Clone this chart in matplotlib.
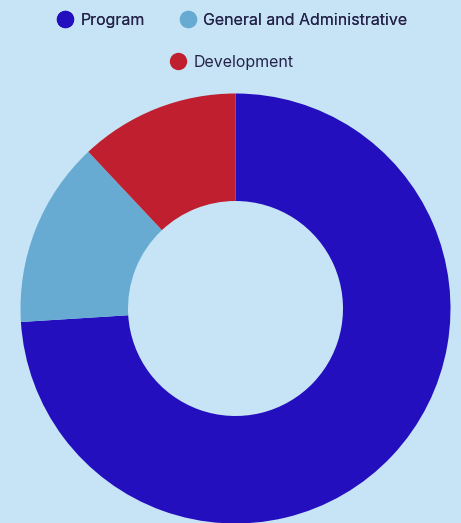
import matplotlib
matplotlib.use("Agg")
import matplotlib.pyplot as plt
from matplotlib.lines import Line2D

categories = ["Program", "General and Administrative", "Development"]
values = [74, 14, 12]
colors = ["#240FBF", "#67ABD3", "#C01F2F"]
bg = "#C6E4F5"
text_color = "#25234A"

plt.rcParams['font.family'] = ['Inter', 'DejaVu Sans']

W, H = 461, 523
fig = plt.figure(figsize=(W / 100, H / 100), dpi=100, facecolor=bg)

cx, cy, r = 235.5, 308.5, 215
ax = fig.add_axes([(cx - r) / W, (H - cy - r) / H, 2 * r / W, 2 * r / H])
ax.set_facecolor(bg)
ax.pie(values, colors=colors, startangle=90, counterclock=False, radius=1,
       wedgeprops=dict(width=0.5, edgecolor='none', antialiased=True))
ax.set_xlim(-1, 1)
ax.set_ylim(-1, 1)
ax.set_aspect('equal')
ax.axis('off')

handles = [Line2D([0], [0], marker='o', linestyle='none', markersize=12.5,
                  markerfacecolor=c, markeredgecolor='none') for c in colors]

fs = 11.5
common = dict(loc='center', frameon=False, handlelength=0.8,
              handletextpad=0.55, labelcolor=text_color,
              prop={'size': fs, 'weight': 'normal'})
leg1 = fig.legend(handles[:2], categories[:2],
                  bbox_to_anchor=(233 / W, 1 - 20.5 / H), ncol=2,
                  columnspacing=2.3, **common)
fig.add_artist(leg1)
leg2 = fig.legend(handles[2:], categories[2:],
                  bbox_to_anchor=(232.5 / W, 1 - 62 / H), ncol=1, **common)

fig.savefig("out.png", dpi=100, facecolor=bg)
